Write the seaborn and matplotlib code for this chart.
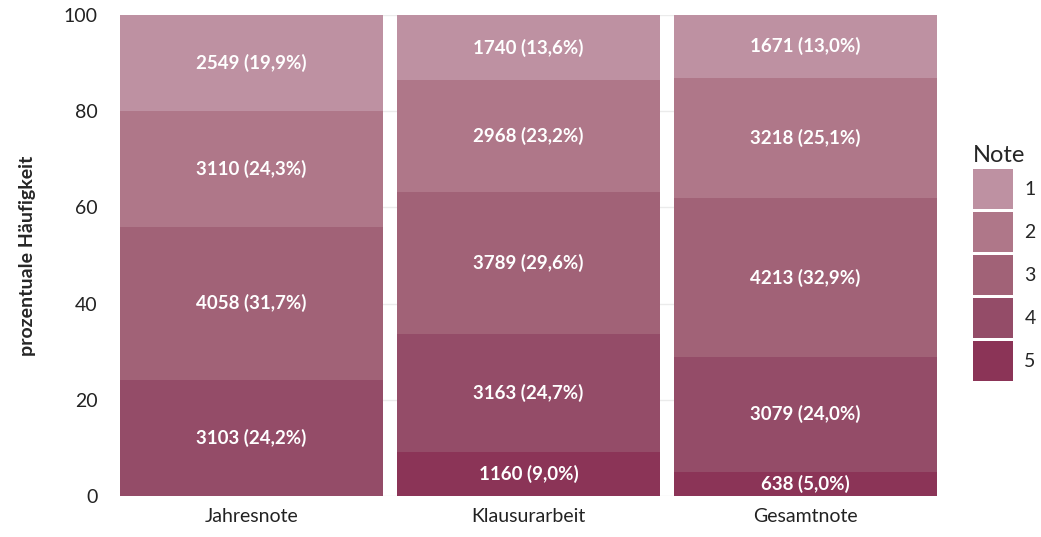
import numpy as np
import pandas as pd
import matplotlib.pyplot as plt
from matplotlib.patches import Patch
import seaborn as sns

# Daten
kategorien = ["Jahresnote", "Klausurarbeit", "Gesamtnote"]
noten = ["1", "2", "3", "4", "5"]
anzahl = {
    "Jahresnote":    [2549, 3110, 4058, 3103, 0],
    "Klausurarbeit": [1740, 2968, 3789, 3163, 1160],
    "Gesamtnote":    [1671, 3218, 4213, 3079, 638],
}
farben = ["#be91a2", "#af7789", "#a16277", "#944c68", "#8b3457"]
yticks = [0, 20, 40, 60, 80, 100]

sns.set_theme(style="white")
plt.rcParams['font.family'] = ['Lato', 'DejaVu Sans']

# Tabelle mit Prozent und kumulierter Höhe (Note 5 unten, Note 1 oben)
rows = []
for k in kategorien:
    werte = np.array(anzahl[k], dtype=float)
    proz = werte / werte.sum() * 100
    for i, n in enumerate(noten):
        oben = proz[i:].sum()
        rows.append({"Kategorie": k, "Note": n, "Anzahl": int(werte[i]),
                     "Prozent": proz[i], "oben": oben, "unten": oben - proz[i]})
df = pd.DataFrame(rows)

fig = plt.figure(figsize=(10.41, 5.37), dpi=100)
ax = fig.add_axes([0.1153, 0.0764, 0.7849, 0.8956])

for y in yticks:
    ax.axhline(y, color="#ebebeb", lw=1, zorder=0)

# Überlagerte Balken, von oben nach unten gezeichnet
for i, n in enumerate(noten):
    sub = df[df["Note"] == n]
    sns.barplot(data=sub, x="Kategorie", y="oben", order=kategorien,
                color=farben[i], saturation=1, width=0.95, ax=ax, zorder=2,
                linewidth=0, edgecolor="none")

for _, r in df.iterrows():
    if r["Anzahl"] == 0:
        continue
    xpos = kategorien.index(r["Kategorie"])
    txt = f"{r['Anzahl']} ({r['Prozent']:.1f}%)".replace(".", ",")
    ax.text(xpos, (r["oben"] + r["unten"]) / 2, txt, ha="center", va="center",
            color="white", fontsize=13.5, fontweight="bold", zorder=3)

ax.set_xlim(-0.475, 2.475)
ax.set_ylim(0, 100)
ax.set_yticks(yticks)
ax.set_ylabel("prozentuale Häufigkeit", fontsize=14, fontweight="bold", labelpad=20)
ax.set_xlabel("")
ax.tick_params(axis="both", labelsize=14, colors="#222222", length=0)
ax.tick_params(axis="x", pad=9)
ax.tick_params(axis="y", pad=16)
for s in ax.spines.values():
    s.set_visible(False)

handles = [Patch(facecolor=farben[i], edgecolor="white", linewidth=0, label=n)
           for i, n in enumerate(noten)]
fig.legend(handles=handles, title="Note", loc="center left", bbox_to_anchor=(0.925, 0.51),
           frameon=False, fontsize=14, title_fontsize=17, handlelength=2.06, handleheight=2.79,
           labelspacing=0.15, handletextpad=0.6, alignment="left", borderpad=0.0)

fig.savefig("out.png", dpi=100)
